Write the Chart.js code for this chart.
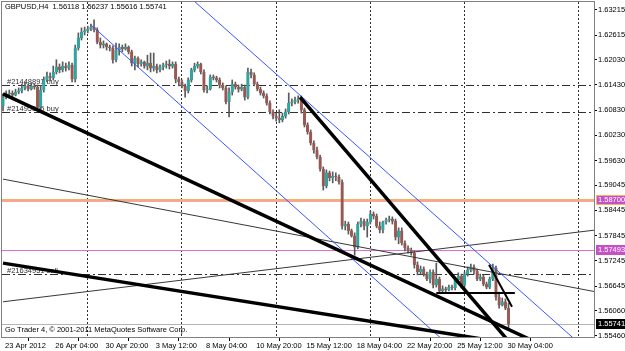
<!DOCTYPE html>
<html>
<head>
<meta charset="utf-8">
<script src="https://cdn.jsdelivr.net/npm/chart.js@4.4.1/dist/chart.umd.min.js"></script>
<style>
  html, body { margin:0; padding:0; background:#fff; }
  #wrap { width:625px; height:351px; }
</style>
</head>
<body>
<div id="wrap"><canvas id="myChart"></canvas></div>
<script>
const symbol = 'GBPUSD';
const period = 'H4';

// H4 candles, 23 Apr 2012 12:00 .. 30 May 2012 08:00
const opens = [
  1.6093,1.6114,1.6122,1.6124,1.6119,1.6126,1.6129,1.6136,1.6141,1.6133,
  1.6141,1.6138,1.6091,1.6131,1.6155,1.6164,1.6160,1.6174,1.6186,1.6179,
  1.6188,1.6183,1.6191,1.6157,1.6231,1.6255,1.6269,1.6272,1.6276,1.6281,
  1.6274,1.6245,1.6238,1.6241,1.6233,1.6231,1.6203,1.6226,1.6233,1.6229,
  1.6233,1.6222,1.6195,1.6207,1.6193,1.6198,1.6188,1.6195,1.6183,1.6188,
  1.6179,1.6186,1.6191,1.6193,1.6188,1.6193,1.6157,1.6150,1.6141,1.6129,
  1.6155,1.6179,1.6188,1.6193,1.6174,1.6131,1.6133,1.6162,1.6160,1.6155,
  1.6143,1.6136,1.6103,1.6126,1.6145,1.6138,1.6133,1.6138,1.6114,1.6174,
  1.6167,1.6145,1.6133,1.6124,1.6117,1.6100,1.6079,1.6069,1.6064,1.6060,
  1.6069,1.6079,1.6100,1.6103,1.6107,1.6110,1.6084,1.6048,1.6031,1.6005,
  1.5988,1.5972,1.5943,1.5903,1.5934,1.5922,1.5926,1.5924,1.5912,1.5807,
  1.5812,1.5796,1.5784,1.5757,1.5812,1.5819,1.5807,1.5817,1.5836,1.5831,
  1.5807,1.5798,1.5817,1.5822,1.5824,1.5819,1.5781,1.5796,1.5767,1.5755,
  1.5750,1.5743,1.5715,1.5698,1.5705,1.5693,1.5681,1.5698,1.5667,1.5681,
  1.5653,1.5658,1.5655,1.5662,1.5660,1.5679,1.5688,1.5667,1.5693,1.5703,
  1.5710,1.5700,1.5681,1.5686,1.5669,1.5662,1.5681,1.5707,1.5638,1.5619,
  1.5627,1.56118
];
const highs = [
  1.6122,1.6129,1.6131,1.6129,1.6133,1.6136,1.6145,1.6150,1.6145,1.6148,
  1.6145,1.6143,1.6141,1.6162,1.6174,1.6172,1.6188,1.6203,1.6193,1.6198,
  1.6195,1.6198,1.6195,1.6238,1.6267,1.6279,1.6281,1.6283,1.6288,1.6298,
  1.6279,1.6255,1.6248,1.6243,1.6238,1.6236,1.6243,1.6241,1.6238,1.6241,
  1.6236,1.6226,1.6212,1.6210,1.6203,1.6200,1.6214,1.6219,1.6219,1.6193,
  1.6191,1.6195,1.6200,1.6203,1.6198,1.6198,1.6162,1.6155,1.6145,1.6160,
  1.6183,1.6195,1.6198,1.6195,1.6179,1.6141,1.6167,1.6167,1.6164,1.6160,
  1.6148,1.6141,1.6136,1.6155,1.6150,1.6143,1.6145,1.6143,1.6183,1.6181,
  1.6172,1.6150,1.6138,1.6129,1.6122,1.6105,1.6084,1.6076,1.6084,1.6076,
  1.6086,1.6124,1.6110,1.6114,1.6117,1.6117,1.6088,1.6053,1.6036,1.6010,
  1.5995,1.5976,1.5948,1.5941,1.5938,1.5936,1.5934,1.5929,1.5917,1.5819,
  1.5817,1.5800,1.5791,1.5817,1.5826,1.5824,1.5824,1.5843,1.5841,1.5836,
  1.5817,1.5819,1.5826,1.5831,1.5829,1.5824,1.5803,1.5803,1.5772,1.5760,
  1.5755,1.5748,1.5722,1.5712,1.5710,1.5698,1.5703,1.5703,1.5719,1.5686,
  1.5665,1.5662,1.5667,1.5667,1.5684,1.5696,1.5693,1.5698,1.5710,1.5717,
  1.5715,1.5705,1.5693,1.5691,1.5674,1.5686,1.5717,1.5712,1.5650,1.5636,
  1.5634,1.56237
];
const lows = [
  1.6081,1.6110,1.6114,1.6114,1.6117,1.6122,1.6124,1.6131,1.6129,1.6131,
  1.6133,1.6081,1.6084,1.6126,1.6150,1.6153,1.6155,1.6169,1.6172,1.6174,
  1.6176,1.6179,1.6150,1.6150,1.6226,1.6250,1.6262,1.6267,1.6272,1.6269,
  1.6241,1.6231,1.6231,1.6226,1.6224,1.6195,1.6198,1.6214,1.6222,1.6226,
  1.6217,1.6188,1.6179,1.6186,1.6188,1.6183,1.6179,1.6174,1.6176,1.6172,
  1.6174,1.6179,1.6183,1.6181,1.6183,1.6148,1.6141,1.6136,1.6114,1.6124,
  1.6150,1.6174,1.6183,1.6169,1.6126,1.6124,1.6131,1.6155,1.6150,1.6136,
  1.6131,1.6098,1.6067,1.6119,1.6133,1.6126,1.6129,1.6107,1.6110,1.6160,
  1.6141,1.6129,1.6119,1.6112,1.6095,1.6074,1.6062,1.6057,1.6053,1.6055,
  1.6064,1.6074,1.6093,1.6098,1.6100,1.6076,1.6043,1.6026,1.6000,1.5981,
  1.5967,1.5938,1.5893,1.5898,1.5915,1.5910,1.5915,1.5907,1.5800,1.5798,
  1.5788,1.5781,1.5738,1.5753,1.5805,1.5798,1.5781,1.5812,1.5824,1.5803,
  1.5791,1.5791,1.5812,1.5817,1.5812,1.5774,1.5765,1.5762,1.5748,1.5743,
  1.5738,1.5707,1.5691,1.5693,1.5688,1.5677,1.5672,1.5660,1.5662,1.5648,
  1.5648,1.5650,1.5653,1.5655,1.5655,1.5674,1.5660,1.5662,1.5688,1.5698,
  1.5693,1.5677,1.5677,1.5665,1.5658,1.5658,1.5677,1.5631,1.5612,1.5617,
  1.5608,1.55616
];
const closes = [
  1.6114,1.6122,1.6124,1.6119,1.6126,1.6129,1.6136,1.6141,1.6133,1.6141,
  1.6138,1.6091,1.6131,1.6155,1.6164,1.6160,1.6174,1.6186,1.6179,1.6188,
  1.6183,1.6191,1.6157,1.6231,1.6255,1.6269,1.6272,1.6276,1.6281,1.6274,
  1.6245,1.6238,1.6241,1.6233,1.6231,1.6203,1.6226,1.6233,1.6229,1.6233,
  1.6222,1.6195,1.6207,1.6193,1.6198,1.6188,1.6195,1.6183,1.6188,1.6179,
  1.6186,1.6191,1.6193,1.6188,1.6193,1.6157,1.6150,1.6141,1.6129,1.6155,
  1.6179,1.6188,1.6193,1.6174,1.6131,1.6133,1.6162,1.6160,1.6155,1.6143,
  1.6136,1.6103,1.6126,1.6145,1.6138,1.6133,1.6138,1.6114,1.6174,1.6167,
  1.6145,1.6133,1.6124,1.6117,1.6100,1.6079,1.6069,1.6064,1.6060,1.6069,
  1.6079,1.6100,1.6103,1.6107,1.6110,1.6084,1.6048,1.6031,1.6005,1.5988,
  1.5972,1.5943,1.5903,1.5934,1.5922,1.5926,1.5924,1.5912,1.5807,1.5812,
  1.5796,1.5784,1.5757,1.5812,1.5819,1.5807,1.5817,1.5836,1.5831,1.5807,
  1.5798,1.5817,1.5822,1.5824,1.5819,1.5781,1.5796,1.5767,1.5755,1.5750,
  1.5743,1.5715,1.5698,1.5705,1.5693,1.5681,1.5698,1.5667,1.5681,1.5653,
  1.5658,1.5655,1.5662,1.5660,1.5679,1.5688,1.5667,1.5693,1.5703,1.5710,
  1.5700,1.5681,1.5686,1.5669,1.5662,1.5681,1.5707,1.5638,1.5619,1.5627,
  1.5612,1.55741
];

// time axis: bar index of each label
const timeTickIdx = [0,16,32,48,64,80,96,112,128,144,160];
const timeLabels = ['23 Apr 2012','26 Apr 04:00','30 Apr 20:00','3 May 12:00','8 May 04:00',
  '10 May 20:00','15 May 12:00','18 May 04:00','22 May 20:00','25 May 12:00','30 May 04:00'];
const priceTicks = [1.63215,1.62615,1.62030,1.61430,1.60830,1.60230,1.59630,
  1.59045,1.58445,1.57845,1.57245,1.56645,1.56060,1.55460];

// period separators (bar index)
const weekSeparators = [26.75, 56.7, 86.9, 116.9, 146.8, 183.1];

// open orders
const orderLevels = [1.6143, 1.6079, 1.5693];
const orderTexts = ['#21448891 buy', '#21495565 buy', '#21634951 sell'];

const orangeLevel = 1.58700;
const pinkLevel = 1.57493;

// trend lines: [bar1, price1, bar2, price2]
const thickLines = [[0,1.6122,180,1.5495],[0,1.5719,180,1.5506],[94.6,1.6114,163.1,1.5515]];
const mediumLines = [[154.8,1.5715,162.1,1.5615],[138,1.5648,163,1.5648]];
const thinLines = [[0,1.5919,190,1.5649],[0,1.5627,190,1.5799]];
const blueLines = [[28,1.6286,145.5,1.5500],[56,1.6375,187,1.5505]];

const bullColor = '#1fada5';
const bearColor = '#a0544c';
const fontFam = "'Liberation Sans', Arial, sans-serif";

Chart.defaults.font.family = fontFam;
Chart.defaults.font.size = 7.5;
Chart.defaults.color = '#000';

const last = closes.length - 1;
const bid = closes[last];
const idx = closes.map((v, i) => i);

function trend(pts, color, width, order){
  return {
    type: 'line',
    data: [{x: pts[0], y: pts[1]}, {x: pts[2], y: pts[3]}],
    borderColor: color,
    borderWidth: width,
    pointRadius: 0,
    tension: 0,
    order: order
  };
}

function hLine(ctx, a, py, color, width, dash){
  ctx.strokeStyle = color;
  ctx.lineWidth = width;
  ctx.setLineDash(dash);
  ctx.beginPath();
  ctx.moveTo(a.left, py);
  ctx.lineTo(a.right, py);
  ctx.stroke();
}

const mtOverlay = {
  id: 'mtOverlay',
  beforeDatasetsDraw(chart){
    const {ctx, chartArea: a, scales: {x, y}} = chart;
    ctx.save();
    ctx.beginPath();
    ctx.rect(a.left, a.top, a.right - a.left, a.bottom - a.top);
    ctx.clip();

    ctx.strokeStyle = '#303030';
    ctx.lineWidth = 1;
    ctx.setLineDash([2, 2]);
    weekSeparators.forEach(s => {
      const px = Math.round(x.getPixelForValue(s)) + 0.5;
      ctx.beginPath();
      ctx.moveTo(px, a.top);
      ctx.lineTo(px, a.bottom);
      ctx.stroke();
    });

    orderLevels.forEach(p => {
      hLine(ctx, a, Math.round(y.getPixelForValue(p)) + 0.5, '#303030', 1, [8, 3, 2, 3]);
    });

    const oy = Math.round(y.getPixelForValue(orangeLevel)) + 0.5;
    hLine(ctx, a, oy, '#f6b068', 3, []);
    hLine(ctx, a, oy, '#f3a0b8', 1, []);
    hLine(ctx, a, Math.round(y.getPixelForValue(pinkLevel)) + 0.5, '#e070d0', 1, []);
    hLine(ctx, a, Math.round(y.getPixelForValue(bid)) + 0.5, '#b4b4b4', 1, []);

    ctx.setLineDash([]);
    ctx.font = '7.5px ' + fontFam;
    ctx.fillStyle = '#303030';
    ctx.textBaseline = 'alphabetic';
    orderLevels.forEach((p, i) => {
      ctx.fillText(orderTexts[i], a.left + 5, y.getPixelForValue(p) - 1);
    });
    ctx.fillStyle = '#000';
    ctx.textBaseline = 'middle';
    ctx.fillText('Go Trader 4, \u00a9 2001-2011 MetaQuotes Software Corp.', a.left + 3, a.bottom - 7);
    ctx.restore();
  },
  afterDatasetsDraw(chart){
    const {ctx, chartArea: a} = chart;
    ctx.save();
    ctx.font = '7.5px ' + fontFam;
    ctx.fillStyle = '#000';
    ctx.textBaseline = 'middle';
    const head = symbol + ',' + period + '  ' +
      [opens[last], highs[last], lows[last], closes[last]].map(v => v.toFixed(5)).join(' ');
    ctx.fillText(head, a.left + 3, a.top + 5);
    ctx.restore();
  },
  afterDraw(chart){
    const {ctx, chartArea: a, scales: {y}} = chart;
    ctx.save();
    ctx.strokeStyle = '#808080';
    ctx.lineWidth = 1;
    ctx.strokeRect(a.left - 0.5, a.top - 0.5, a.right - a.left + 1, a.bottom - a.top + 1);

    ctx.font = '7.5px ' + fontFam;
    ctx.textBaseline = 'middle';
    const boxes = [
      [orangeLevel, '#c452c4', '#fff', '#f6b068'],
      [pinkLevel, '#c452c4', '#fff', null],
      [bid, '#000', '#fff', null]
    ];
    boxes.forEach(b => {
      const py = Math.round(y.getPixelForValue(b[0]));
      ctx.fillStyle = b[1];
      ctx.fillRect(a.right + 2, py - 5, 40, 10);
      if (b[3]) {
        ctx.strokeStyle = b[3];
        ctx.strokeRect(a.right + 2.5, py - 4.5, 40, 9);
      }
      ctx.fillStyle = b[2];
      ctx.fillText(b[0].toFixed(5), a.right + 4, py);
    });
    ctx.restore();
  }
};

const datasets = [
  {
    label: 'wick',
    data: idx.map(i => ({x: i, y: [lows[i], highs[i]]})),
    backgroundColor: '#5a5a5a',
    barThickness: 1,
    grouped: false,
    order: 6
  },
  {
    label: 'body',
    data: idx.map(i => ({x: i, y: [opens[i], closes[i]]})),
    backgroundColor: idx.map(i => closes[i] >= opens[i] ? bullColor : bearColor),
    borderColor: '#7a7a7a',
    borderWidth: 0.4,
    borderSkipped: false,
    barThickness: 2.6,
    minBarLength: 1,
    grouped: false,
    order: 5
  }
];
blueLines.forEach(l => datasets.push(trend(l, '#3a55ff', 1, 3)));
thinLines.forEach(l => datasets.push(trend(l, '#383838', 1, 3)));
mediumLines.forEach(l => datasets.push(trend(l, '#000', 2, 2)));
thickLines.forEach(l => datasets.push(trend(l, '#000', 3.5, 1)));

const ctx = document.getElementById('myChart').getContext('2d');
new Chart(ctx, {
  type: 'bar',
  data: { datasets: datasets },
  options: {
    responsive: true,
    maintainAspectRatio: false,
    animation: false,
    devicePixelRatio: 1,
    layout: { padding: { top: 2, left: 2, right: 0, bottom: 0 } },
    plugins: { legend: { display: false }, tooltip: { enabled: false } },
    scales: {
      x: {
        type: 'linear',
        offset: false,
        min: -0.318,
        max: 188.22,
        afterBuildTicks: s => { s.ticks = timeTickIdx.map(v => ({value: v})); },
        afterFit: s => { s.height = 14; s.paddingLeft = 0; s.paddingRight = 0; },
        grid: { drawOnChartArea: false, drawTicks: true, tickLength: 4, color: '#000' },
        border: { color: '#808080' },
        ticks: {
          autoSkip: false,
          maxRotation: 0,
          align: 'start',
          labelOffset: 2,
          padding: 0,
          callback: v => { const k = timeTickIdx.indexOf(v); return k >= 0 ? timeLabels[k] : ''; }
        }
      },
      y: {
        type: 'linear',
        position: 'right',
        min: 1.55432,
        max: 1.63405,
        afterBuildTicks: s => { s.ticks = priceTicks.map(v => ({value: v})); },
        afterFit: s => { s.width = 31; s.paddingTop = 0; s.paddingBottom = 0; },
        grid: { drawOnChartArea: false, drawTicks: true, tickLength: 3, color: '#000' },
        border: { color: '#808080' },
        ticks: {
          padding: 1,
          callback: v => v.toFixed(5)
        }
      }
    }
  },
  plugins: [mtOverlay]
});
</script>
</body>
</html>
